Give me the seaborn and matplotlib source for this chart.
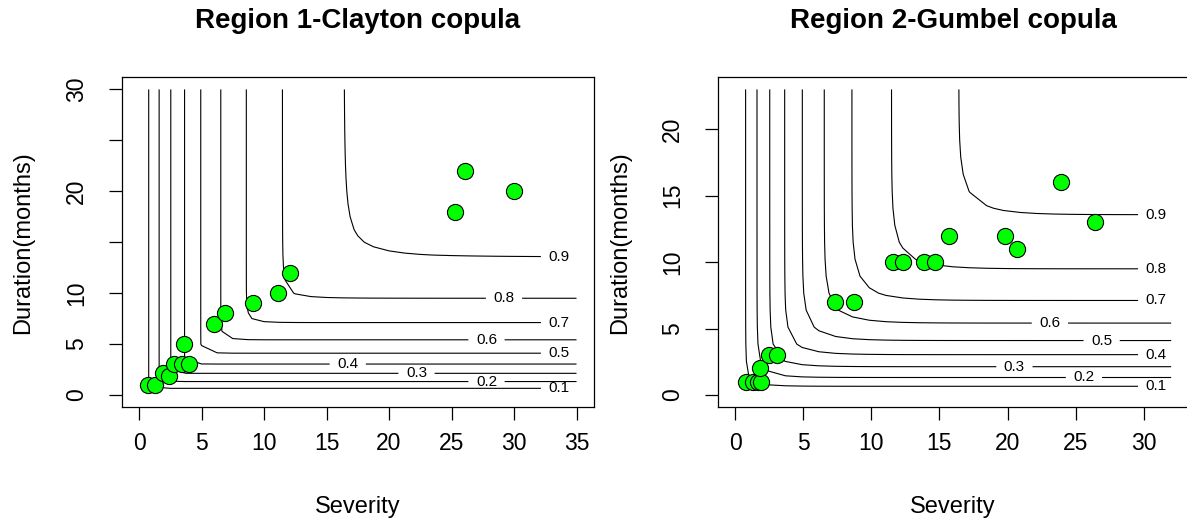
import numpy as np
import matplotlib
matplotlib.use("Agg")
import matplotlib.pyplot as plt
import seaborn as sns

# Observed drought events: severity and duration (months)
r1_severity = [0.7, 1.3, 1.9, 2.4, 2.8, 3.4, 4.0, 3.6, 6.0, 6.9, 9.1, 11.1, 12.1, 25.3, 26.1, 30.0]
r1_duration = [1.0, 1.0, 2.2, 1.9, 3.0, 3.0, 3.0, 5.0, 7.0, 8.0, 9.0, 10.0, 12.0, 18.0, 22.0, 20.0]

r2_severity = [0.8, 1.3, 1.7, 1.9, 1.8, 2.5, 3.1, 7.3, 8.7, 11.6, 12.3, 13.9, 14.7, 15.7, 19.8, 20.7, 23.9, 26.4]
r2_duration = [1.0, 1.0, 1.0, 1.0, 2.0, 3.0, 3.0, 7.0, 7.0, 10.0, 10.0, 10.0, 10.0, 12.0, 12.0, 11.0, 16.0, 13.0]

# Exponential marginal means and copula parameters
severity_mean = 7.12
duration_mean = 5.88
clayton_theta = 28.0
gumbel_theta = 3.5

levels = [0.1, 0.2, 0.3, 0.4, 0.5, 0.6, 0.7, 0.8, 0.9]

# Grid extents for the probability surface
r1_xmax, r1_ymax = 35, 30
r2_xmax, r2_ymax = 32, 23

# Severity at which each contour label sits
r1_label_x = [33.6, 27.8, 22.2, 16.7, 33.6, 27.8, 33.6, 29.2, 33.6]
r2_label_x = [30.9, 25.6, 20.5, 30.9, 26.9, 23.1, 30.9, 30.9, 30.9]


def exp_cdf(x, m):
    return 1.0 - np.exp(-x / m)


def exp_quantile(p, m):
    return -m * np.log(1.0 - p)


def clayton_cdf(u, v, t):
    with np.errstate(divide="ignore", over="ignore", invalid="ignore"):
        s = u ** (-t) + v ** (-t) - 1.0
        c = s ** (-1.0 / t)
    return np.nan_to_num(c, nan=0.0)


def gumbel_cdf(u, v, t):
    with np.errstate(divide="ignore", over="ignore", invalid="ignore"):
        a = (-np.log(u)) ** t + (-np.log(v)) ** t
        c = np.exp(-a ** (1.0 / t))
    return np.nan_to_num(c, nan=0.0)


sns.set_theme(style="ticks")
plt.rcParams["font.family"] = ["Liberation Sans", "DejaVu Sans"]

W, H = 1187, 527
fig = plt.figure(figsize=(W / 100, H / 100), dpi=100)

ax1 = fig.add_axes([121.5 / W, 1 - 407.2 / H, 472.5 / W, 330.0 / H])
ax2 = fig.add_axes([717.6 / W, 1 - 407.2 / H, 471.0 / W, 330.0 / H])

panels = [
    (ax1, "Region 1-Clayton copula", clayton_cdf, clayton_theta, r1_xmax, r1_ymax,
     r1_severity, r1_duration, r1_label_x, np.arange(0, 36, 5), np.arange(0, 31, 5),
     ["0", "5", "10", "", "20", "", "30"]),
    (ax2, "Region 2-Gumbel copula", gumbel_cdf, gumbel_theta, r2_xmax, r2_ymax,
     r2_severity, r2_duration, r2_label_x, np.arange(0, 31, 5), np.arange(0, 21, 5),
     ["0", "5", "10", "15", "20"]),
]

for ax, title, cop, theta, xmax, ymax, sev, dur, lab_x, xt, yt, ytl in panels:
    gx = np.linspace(0, xmax, int(round(xmax / 1.25)) + 1)
    gy = np.linspace(0, ymax, int(round(ymax / 1.25)) + 1)
    X, Y = np.meshgrid(gx, gy)
    Z = cop(exp_cdf(X, severity_mean), exp_cdf(Y, duration_mean), theta)

    cs = ax.contour(X, Y, Z, levels=levels, colors="black", linewidths=0.8)
    spots = [(lx, exp_quantile(p, duration_mean)) for lx, p in zip(lab_x, levels)]
    ax.clabel(cs, levels, manual=spots, inline=True, inline_spacing=9,
              fmt="%.1f", fontsize=11, colors="black")

    sns.scatterplot(x=sev, y=dur, ax=ax, s=135, color="#00ff00",
                    edgecolor="black", linewidth=0.8, zorder=3, legend=False)

    ax.set_xlim(-0.04 * xmax, xmax * 1.04)
    ax.set_ylim(-0.04 * ymax, ymax * 1.04)
    ax.set_xticks(xt)
    ax.set_xticklabels([str(v) for v in xt])
    ax.set_yticks(yt)
    ax.set_yticklabels(ytl, rotation=90, va="center")

    for sp in ax.spines.values():
        sp.set_visible(True)
        sp.set_color("black")
        sp.set_linewidth(0.9)

    ax.tick_params(axis="both", direction="out", length=9.7, width=0.9,
                   color="black", labelsize=16.5, labelcolor="black")
    ax.tick_params(axis="x", pad=7.9)
    ax.tick_params(axis="y", pad=14.4)

    ax.set_xlabel("Severity", fontsize=17, color="black")
    ax.xaxis.label.set_va("center")
    ax.xaxis.set_label_coords(0.5, -0.302)
    ax.set_ylabel("Duration(months)", fontsize=17, color="black")
    ax.yaxis.label.set_va("center")
    ax.yaxis.set_label_coords(-98.0 / 472.5, 0.5)

    ax.set_title(title, fontsize=20, fontweight="bold", color="black", y=1.146, va="center")
    ax.grid(False)

fig.savefig("out.png", dpi=100, facecolor="white")
